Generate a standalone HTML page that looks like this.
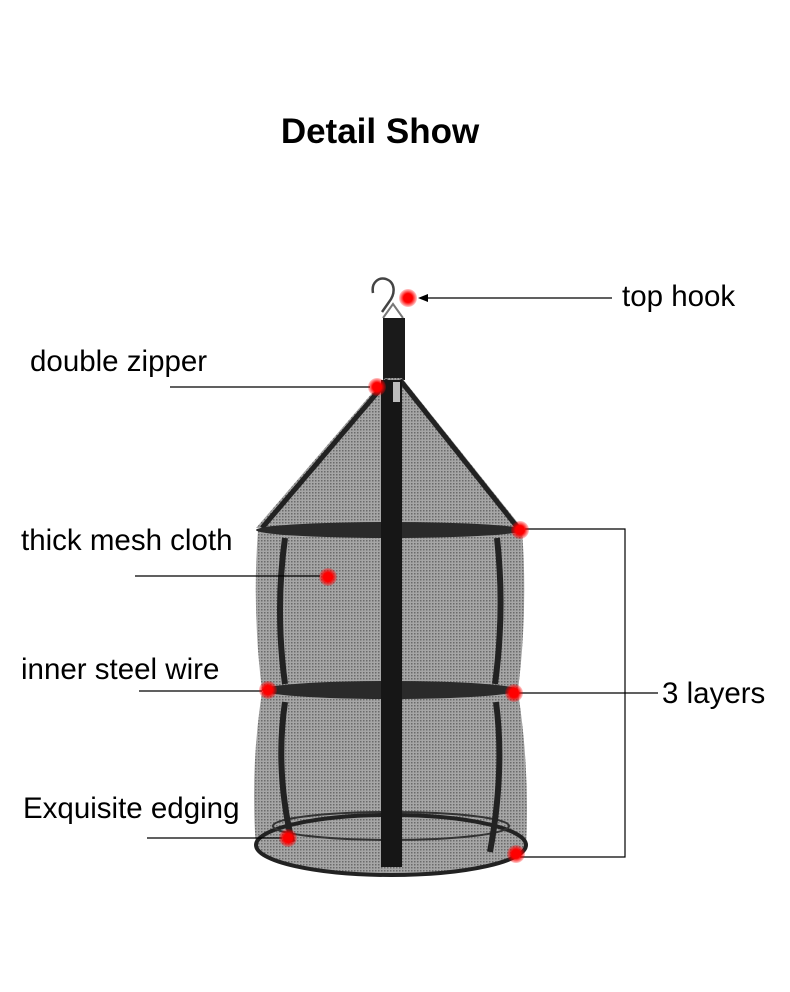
<!DOCTYPE html>
<html><head><meta charset="utf-8"><style>
html,body{margin:0;padding:0;background:#fff;}
svg{display:block;}
text{font-family:"Liberation Sans",Arial,sans-serif;fill:#000;}
</style></head><body>
<svg width="790" height="992" viewBox="0 0 790 992" xmlns="http://www.w3.org/2000/svg">
<defs>
<pattern id="mesh" width="3" height="3" patternUnits="userSpaceOnUse">
<rect width="3" height="3" fill="#a6a6a6"/><rect width="1.5" height="1.5" fill="#6a6a6a"/>
</pattern>
<radialGradient id="dot"><stop offset="0.5" stop-color="#f00"/><stop offset="1" stop-color="#f00" stop-opacity="0.2"/></radialGradient>
</defs>
<text x="380" y="143" font-size="35" font-weight="bold" text-anchor="middle">Detail Show</text>

<!-- hook -->
<path d="M373 293 C371 282 379 277 386 279 C395 282 396 293 389 302 L382 312" fill="none" stroke="#444" stroke-width="2.5"/>
<path d="M383 318 L393 304 L403 318" fill="none" stroke="#777" stroke-width="2"/>
<rect x="383" y="318" width="22" height="62" fill="#1a1a1a"/>

<!-- cone -->
<path d="M385 378 L402 378 L522 528 L256 528 Z" fill="url(#mesh)"/>
<path d="M388 380 L262 528 M400 380 L518 528" stroke="#222" stroke-width="5"/>
<!-- layer1 -->
<path d="M258 530 Q252 610 262 690 L518 690 Q528 610 522 530 Z" fill="url(#mesh)"/>
<!-- layer2 -->
<path d="M262 692 Q250 770 256 848 L526 848 Q530 770 518 692 Z" fill="url(#mesh)"/>
<ellipse cx="391" cy="845" rx="135" ry="30" fill="url(#mesh)" stroke="#222" stroke-width="4"/>
<ellipse cx="391" cy="826" rx="118" ry="14" fill="none" stroke="#333" stroke-width="2"/>
<!-- vertical bands -->
<path d="M285 538 Q275 610 285 684 M497 538 Q505 610 495 684" stroke="#222" stroke-width="6" fill="none"/>
<path d="M285 702 Q275 770 292 842 M496 702 Q505 770 490 852" stroke="#222" stroke-width="6" fill="none"/>
<!-- rings -->
<ellipse cx="390" cy="530" rx="134" ry="8" fill="#2a2a2a"/>
<ellipse cx="390" cy="690" rx="128" ry="9" fill="#2a2a2a"/>
<!-- zipper -->
<rect x="381" y="380" width="21" height="487" fill="#161616"/>
<rect x="393" y="382" width="7" height="20" fill="#bbb"/>

<!-- lines -->
<g stroke="#000" stroke-width="1.2" fill="none">
<line x1="612" y1="298" x2="425" y2="298"/>
<line x1="170" y1="387" x2="370" y2="387"/>
<line x1="135" y1="576" x2="320" y2="576"/>
<line x1="139" y1="691" x2="262" y2="691"/>
<line x1="147" y1="838" x2="282" y2="838"/>
<polyline points="525,529 625,529 625,857 520,857"/>
<line x1="519" y1="693" x2="658" y2="693"/>
</g>
<path d="M418 298 L428 294 L428 302 Z" fill="#000"/>

<!-- dots -->
<g fill="url(#dot)">
<circle cx="408" cy="298" r="9"/><circle cx="377" cy="387" r="9"/><circle cx="520" cy="530" r="9"/>
<circle cx="328" cy="577" r="9"/><circle cx="268" cy="690" r="9"/><circle cx="514" cy="693" r="9"/>
<circle cx="288" cy="838" r="9"/><circle cx="516" cy="854" r="9"/>
</g>

<!-- labels -->
<g font-size="29.5">
<text x="622" y="306">top hook</text>
<text x="30" y="371">double zipper</text>
<text x="21" y="550">thick mesh cloth</text>
<text x="21" y="679">inner steel wire</text>
<text x="23" y="818">Exquisite edging</text>
<text x="662" y="703">3 layers</text>
</g>
</svg>
</body></html>
